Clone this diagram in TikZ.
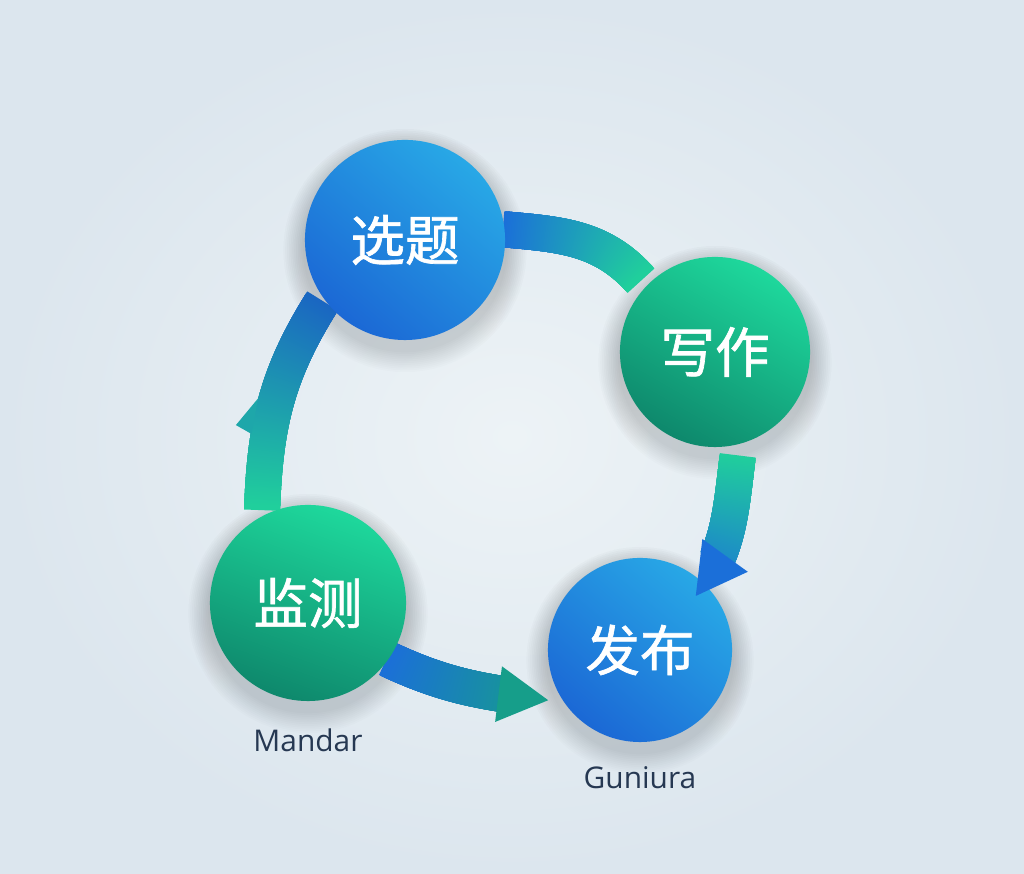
\documentclass[tikz,border=0pt]{standalone}
\usepackage{fontspec}
\setmainfont{Open Sans}
\newfontfamily\cjk{Noto Sans CJK SC}[FakeBold=1.2]
\usetikzlibrary{calc, positioning, decorations.markings}
\definecolor{bgIn}{HTML}{EDF3F6}
\definecolor{bgOut}{HTML}{DCE6EE}
\definecolor{blueHi}{HTML}{28A8E6}
\definecolor{blueLo}{HTML}{1B68D5}
\definecolor{greenHi}{HTML}{1ED89C}
\definecolor{greenLo}{HTML}{0E886C}
\definecolor{flowB}{HTML}{1B6FD9}
\definecolor{flowD}{HTML}{1A66C2}
\definecolor{flowG}{HTML}{20CF9C}
\definecolor{flowT}{HTML}{169E8A}
\definecolor{shade}{HTML}{7F9BB2}
\definecolor{tagText}{HTML}{263852}
\pgfdeclarelayer{bg}
\pgfsetlayers{bg,main}
\newlength\headlen
\setlength\headlen{0.45cm}
\tikzset{
  band/.style 2 args={postaction={decorate, decoration={markings,
      mark=between positions 0 and 1 step 0.004 with {
        \pgfmathsetmacro\bandpct{min(100,100*\pgfkeysvalueof{/pgf/decoration/mark info/distance from start}/\pgfdecoratedpathlength)}
        \colorlet{bandcol}{#2!\bandpct!#1}
        \fill[bandcol] (-0.7pt,-0.18cm) rectangle (0.7pt,0.18cm);}}}},
  arrowband/.style 2 args={postaction={decorate, decoration={markings,
      mark=between positions 0 and 1 step 0.004 with {
        \pgfmathsetmacro\bandpct{min(100,100*\pgfkeysvalueof{/pgf/decoration/mark info/distance from start}/\pgfdecoratedpathlength)}
        \pgfmathsetmacro\bandrest{\pgfdecoratedpathlength-\pgfkeysvalueof{/pgf/decoration/mark info/distance from start}}
        \colorlet{bandcol}{#2!\bandpct!#1}
        \ifdim\bandrest pt>\headlen
          \fill[bandcol] (-0.7pt,-0.18cm) rectangle (0.7pt,0.18cm);
        \fi},
      mark=at position 1 with {\fill[#2] (0,0) -- (-0.5cm,0.28cm) -- (-0.5cm,-0.28cm) -- cycle;}}}},
  barb/.style={postaction={decorate, decoration={markings,
      mark=at position 0.64 with {\fill[#1] (-0.3cm,-0.17cm) -- (0,-0.34cm) -- (0.06cm,-0.17cm) -- cycle;}}}}
}

\begin{document}
\begin{tikzpicture}[x=0.01cm, y=0.01cm,
    bubble/.style={circle, inner sep=0pt, text=white,
      font=\cjk\fontsize{15.5}{18}\selectfont},
    bluebubble/.style={bubble, top color=blueHi, bottom color=blueLo, shading angle=-40},
    greenbubble/.style={bubble, top color=greenHi, bottom color=greenLo},
    tag/.style={inner sep=0pt, text=tagText, font=\fontsize{8.5}{10}\selectfont}]
  \useasboundingbox (0,0) rectangle (1024,874);

  \node[bluebubble, minimum size=2cm] (xuanti) at (405,634) {选题};
  \node[greenbubble, minimum size=1.9cm, shading angle=-30] (xiezuo) at (715,522) {写作};
  \node[bluebubble, minimum size=1.84cm] (fabu) at (640,224) {发布};
  \node[greenbubble, minimum size=1.96cm, shading angle=-20] (jiance) at (308,271) {监测};

  \node[tag, below=0.26cm of jiance] (mandar) {Mandar};
  \node[tag, below=0.23cm of fabu] (guniura) {Guniura};

  \begin{pgfonlayer}{bg}
    \fill[inner color=bgIn, outer color=bgOut] (0,0) rectangle (1024,874);
    % soft shadows under the bubbles
    \foreach \n/\r in {xuanti/100, xiezuo/95, fabu/92, jiance/98}
      \foreach \k in {1,...,12}
        \fill[shade, opacity=0.012] ([yshift=-3pt]\n.center) circle ({\r+1.8*\k});
    % loop: xuanti -> xiezuo
    \path[band={flowB}{flowG}]
      (xuanti.6) to[out=-5, in=132] ($(xiezuo.center)!1.09!(xiezuo.136)$);
    % xuanti -> jiance
    \path[band={flowD}{flowG}, barb={flowG!62!flowD}]
      ($(xuanti.center)!1.04!(xuanti.-143)$) to[out=-122, in=88]
      ($(jiance.center)!1.06!(jiance.116)$);
    % jiance -> fabu
    \path[arrowband={flowB}{flowT}]
      (jiance.-35) to[out=-25, in=173] ($(fabu.center)!1.12!(fabu.209)$);
  \end{pgfonlayer}

  % xiezuo -> fabu
  \path[arrowband={flowG}{flowB}]
    ($(xiezuo.center)!1.13!(xiezuo.-78)$) to[out=-97, in=54]
    ($(fabu.center)!0.83!(fabu.44)$);
\end{tikzpicture}
\end{document}
